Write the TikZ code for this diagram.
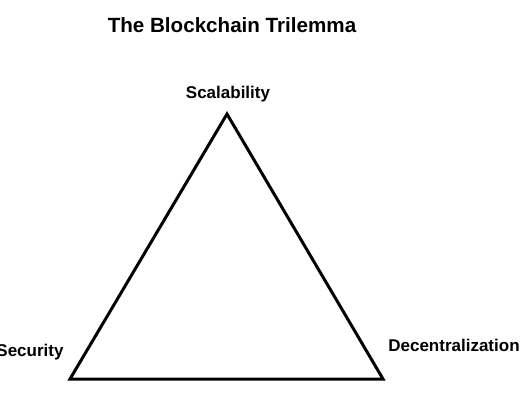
\documentclass[tikz,border=0pt]{standalone}
\usepackage{fontspec}
\setmainfont{Liberation Sans}
\begin{document}
\begin{tikzpicture}[x=1pt,y=-1pt,
  lbl/.style={font=\fontsize{17}{20}\selectfont\bfseries, inner sep=0pt},
  ttl/.style={font=\fontsize{20.6}{24}\selectfont\bfseries, inner sep=0pt},
  edge/.style={draw=black, line width=3pt, line join=miter}]
\useasboundingbox (0,0) rectangle (520,400);
\node[ttl] (title) at (232,25) {The Blockchain Trilemma};
\coordinate (top) at (227,114);
\coordinate (bl) at (70,379);
\coordinate (br) at (383,379);
\draw[edge] (top) -- (br) -- (bl) -- cycle;
\node[lbl] (scal) at (228,94) {Scalability};
\node[lbl] (sec) at (30,352) {Security};
\node[lbl] (dec) at (454,345) {Decentralization};
\end{tikzpicture}
\end{document}
